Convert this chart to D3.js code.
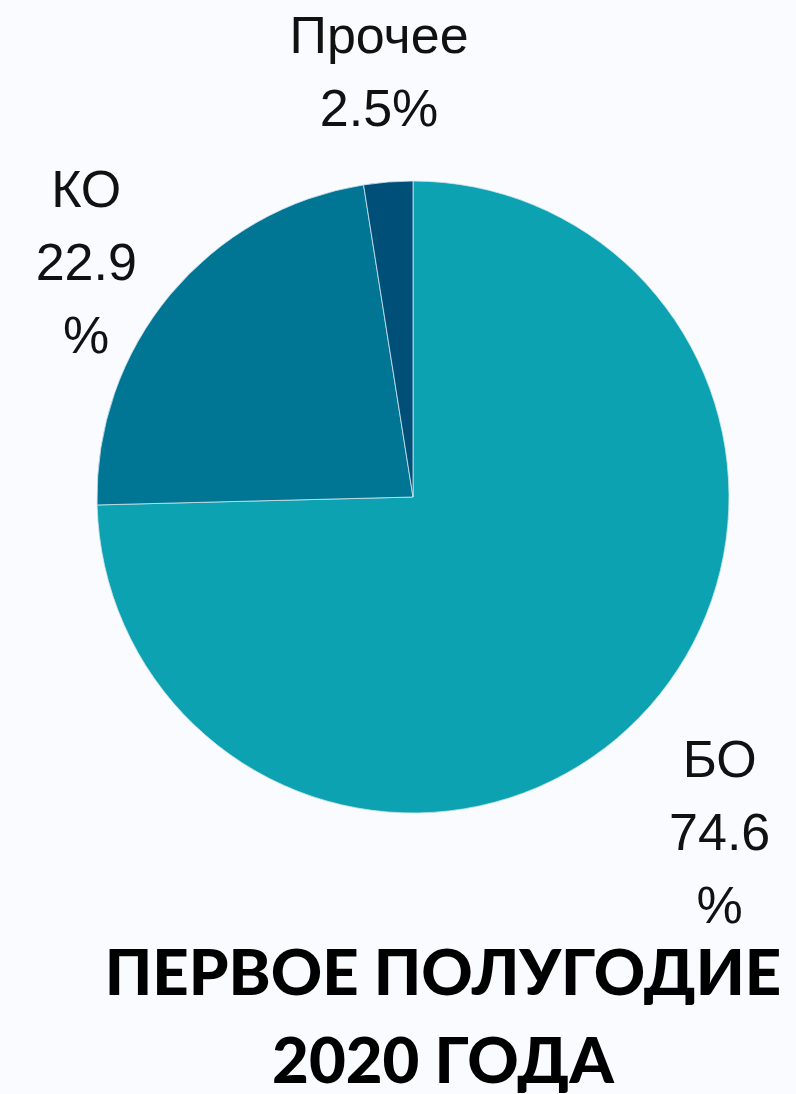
<!DOCTYPE html>
<html>
<head>
<meta charset="utf-8">
<script src="https://cdn.jsdelivr.net/npm/d3@7"></script>
<style>
  html, body { margin: 0; padding: 0; background: #f9fbfe; }
  svg { display: block; }
</style>
</head>
<body>
<svg id="chart"></svg>
<script>
// shares of the first half of 2020
var categories = ["БО", "КО", "Прочее"];
var values = [74.6, 22.9, 2.5];
var colors = ["#0ca2b2", "#007594", "#004f78"];
var titleLines = ["ПЕРВОЕ ПОЛУГОДИЕ", "2020 ГОДА"];

var svgWidth = 796, svgHeight = 1094;
var cx = 413, cy = 497, radius = 316;

var svg = d3.select("#chart")
  .attr("width", svgWidth)
  .attr("height", svgHeight);

var data = categories.map(function(c, i) {
  return { name: c, value: values[i], color: colors[i] };
});

var pie = d3.pie()
  .sort(null)
  .value(function(d) { return d.value; });

var arc = d3.arc().innerRadius(0).outerRadius(radius);
var labelArc = d3.arc().innerRadius(420).outerRadius(420);

var g = svg.append("g")
  .attr("transform", "translate(" + cx + "," + cy + ")");

var arcs = pie(data);

g.selectAll("path")
  .data(arcs)
  .enter().append("path")
  .attr("d", arc)
  .attr("fill", function(d) { return d.data.color; })
  .attr("stroke", "#cfe6ee")
  .attr("stroke-width", 0.8);

// labels wrap the same way as in the original (narrow text box)
var nudge = { "БО": [6, 44], "КО": [-4, 36], "Прочее": [-1, -5] };
var lineH = 73;

g.selectAll("text.lbl")
  .data(arcs)
  .enter().append("text")
  .attr("class", "lbl")
  .attr("font-family", "Liberation Sans, Arial, sans-serif")
  .attr("font-size", 52)
  .attr("fill", "#111")
  .attr("text-anchor", "middle")
  .each(function(d) {
    var v = d.data.value;
    var lines = v < 10 ? [d.data.name, v + "%"] : [d.data.name, String(v), "%"];
    var c = labelArc.centroid(d);
    var n = nudge[d.data.name];
    var top = c[1] + n[1] - (lines.length - 1) * lineH / 2 + 16;
    var t = d3.select(this);
    lines.forEach(function(l, i) {
      t.append("tspan")
        .attr("x", c[0] + n[0])
        .attr("y", top + i * lineH)
        .text(l);
    });
  });

svg.append("g").selectAll("text")
  .data(titleLines)
  .enter().append("text")
  .attr("x", 443)
  .attr("y", function(d, i) { return 995 + i * 88; })
  .attr("text-anchor", "middle")
  .attr("font-family", "Lato, sans-serif")
  .attr("font-weight", 900)
  .attr("font-size", 63.5)
  .attr("fill", "#000")
  .text(function(d) { return d; });
</script>
</body>
</html>
